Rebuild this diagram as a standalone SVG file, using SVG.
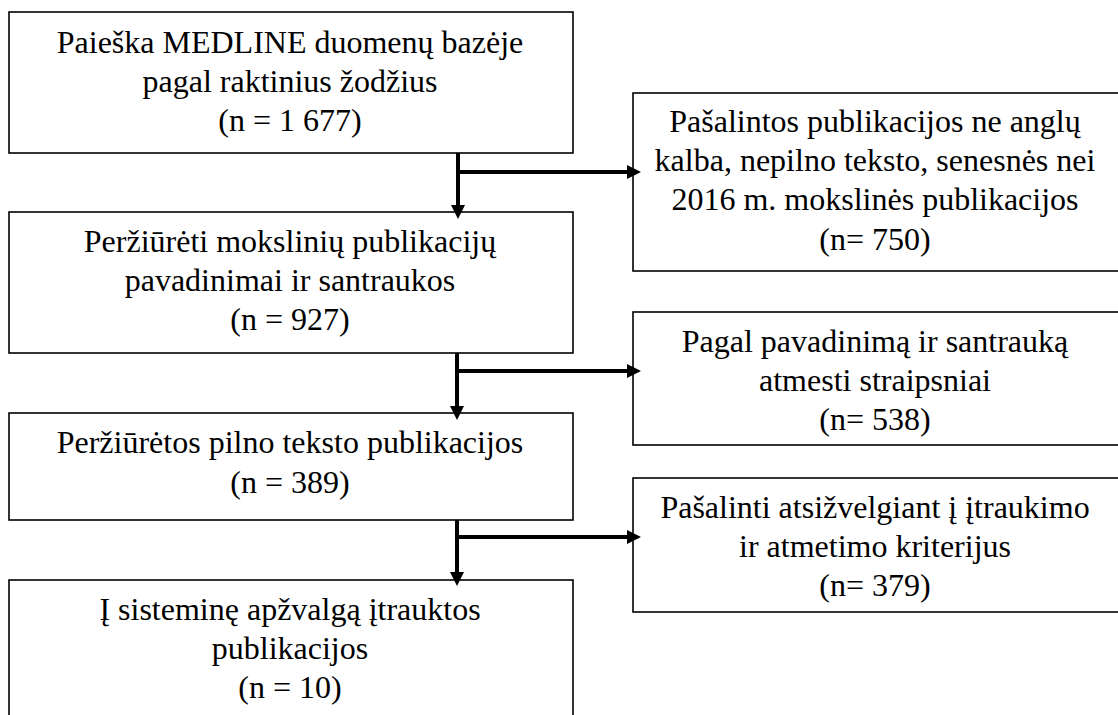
<svg xmlns="http://www.w3.org/2000/svg" width="1118" height="715" viewBox="0 0 1118 715">
<defs>
<style>
.box{fill:#fff;stroke:#000;stroke-width:1.6}
.t{font-family:"Liberation Serif","Times New Roman",serif;font-size:32px;fill:#000;text-anchor:middle}
.c{fill:none;stroke:#000;stroke-width:4}
</style>
<marker id="ah" markerUnits="userSpaceOnUse" markerWidth="14" markerHeight="14" viewBox="0 0 14 14" refX="8" refY="7" orient="auto">
<path d="M0,0 L14,7 L0,14 z" fill="#000"/>
</marker>
</defs>
<rect width="1118" height="715" fill="#fff"/>
<g id="n1">
<rect class="box" x="9" y="12" width="564" height="141"/>
<text class="t" x="290" y="53">Paieška MEDLINE duomenų bazėje</text>
<text class="t" x="290" y="92">pagal raktinius žodžius</text>
<text class="t" x="290" y="131">(n = 1 677)</text>
</g>
<g id="n2">
<rect class="box" x="9" y="212" width="564" height="141"/>
<text class="t" x="290" y="252">Peržiūrėti mokslinių publikacijų</text>
<text class="t" x="290" y="291">pavadinimai ir santraukos</text>
<text class="t" x="290" y="330">(n = 927)</text>
</g>
<g id="n3">
<rect class="box" x="9" y="413" width="564" height="107"/>
<text class="t" x="290" y="453">Peržiūrėtos pilno teksto publikacijos</text>
<text class="t" x="290" y="493">(n = 389)</text>
</g>
<g id="n4">
<rect class="box" x="9" y="580" width="564" height="160"/>
<text class="t" x="290" y="620">Į sisteminę apžvalgą įtrauktos</text>
<text class="t" x="290" y="659">publikacijos</text>
<text class="t" x="290" y="698">(n = 10)</text>
</g>
<g id="r1">
<rect class="box" x="633" y="93" width="490" height="178"/>
<text class="t" x="875" y="132">Pašalintos publikacijos ne anglų</text>
<text class="t" x="875" y="171">kalba, nepilno teksto, senesnės nei</text>
<text class="t" x="875" y="210">2016 m. mokslinės publikacijos</text>
<text class="t" x="875" y="250">(n= 750)</text>
</g>
<g id="r2">
<rect class="box" x="633" y="312" width="490" height="133"/>
<text class="t" x="875" y="352">Pagal pavadinimą ir santrauką</text>
<text class="t" x="875" y="391">atmesti straipsniai</text>
<text class="t" x="875" y="430">(n= 538)</text>
</g>
<g id="r3">
<rect class="box" x="633" y="478" width="490" height="134"/>
<text class="t" x="875" y="518">Pašalinti atsižvelgiant į įtraukimo</text>
<text class="t" x="875" y="557">ir atmetimo kriterijus</text>
<text class="t" x="875" y="596">(n= 379)</text>
</g>
<g id="connectors">
<path class="c" d="M458,153 V213" marker-end="url(#ah)"/>
<path class="c" d="M458,172 H635" marker-end="url(#ah)"/>
<path class="c" d="M457,353 V414" marker-end="url(#ah)"/>
<path class="c" d="M457,371 H635" marker-end="url(#ah)"/>
<path class="c" d="M457,520 V580" marker-end="url(#ah)"/>
<path class="c" d="M457,537 H635" marker-end="url(#ah)"/>
</g>
</svg>
